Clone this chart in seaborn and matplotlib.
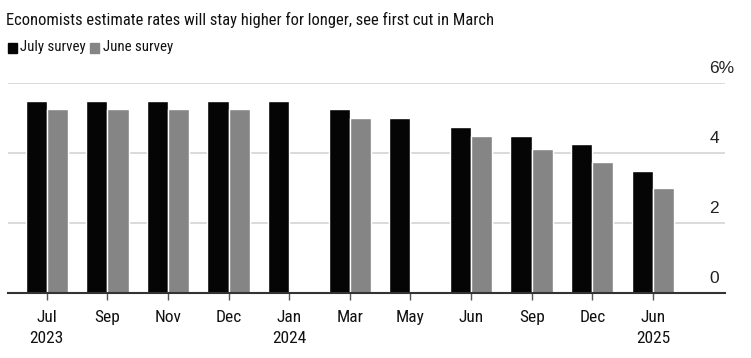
import numpy as np
import pandas as pd
import matplotlib
matplotlib.use("Agg")
import matplotlib.pyplot as plt
import seaborn as sns
from matplotlib.patches import Rectangle

categories = ["Jul\n2023", "Sep", "Nov", "Dec", "Jan\n2024", "Mar", "May", "Jun", "Sep ", "Dec ", "Jun\n2025"]
july_survey = [5.5, 5.5, 5.5, 5.5, 5.5, 5.25, 5.0, 4.75, 4.5, 4.25, 3.5]
june_survey = [5.25, 5.25, 5.25, 5.25, np.nan, 5.0, np.nan, 4.5, 4.125, 3.75, 3.0]
series_names = ["July survey", "June survey"]
y_ticks = [0, 2, 4, 6]
y_tick_labels = ["0", "2", "4", "6%"]
title = "Economists estimate rates will stay higher for longer, see first cut in March"

sns.set_theme(style="white")
plt.rcParams['font.family'] = ['Roboto Condensed', 'Liberation Sans', 'DejaVu Sans']

df = pd.DataFrame({
    "cat": categories * 2,
    "value": july_survey + june_survey,
    "series": [series_names[0]] * len(categories) + [series_names[1]] * len(categories),
})

fig = plt.figure(figsize=(7.51, 3.58), dpi=100)
ax = fig.add_axes([8 / 751, (358 - 293) / 358, (725 - 8) / 751, (293 - 83) / 358])
colors = ["#050505", "#858585"]
sns.barplot(data=df, x="cat", y="value", hue="series", order=categories,
            hue_order=series_names, palette=colors, width=0.7, dodge=True,
            ax=ax, legend=False, saturation=1, errorbar=None)

ax.set_xlim(-0.64, 11.19)
ax.set_ylim(0, 6)
for y in y_ticks[1:]:
    ax.axhline(y, color="#d4d4d4", lw=1.2, zorder=0)
ax.set_yticks([])
for y, lab in zip(y_ticks, y_tick_labels):
    ax.text(10.93, y + 0.2, lab, fontsize=12.5, color="#222222", ha="left", va="bottom",
            family=['Liberation Sans', 'DejaVu Sans'])

for s in ["top", "right", "left"]:
    ax.spines[s].set_visible(False)
ax.spines["bottom"].set_color("#333333")
ax.spines["bottom"].set_linewidth(1.5)
ax.set_xlabel("")
ax.set_ylabel("")
ax.tick_params(axis="x", bottom=True, length=5, width=1, color="#555555",
               labelsize=12.5, pad=7, labelcolor="#111111")
ax.set_xticks(range(len(categories)))
ax.set_xticklabels([c.strip() for c in categories], linespacing=1.5)

fig.text(6 / 751, 1 - 20 / 358, title, fontsize=11.9, color="#111111", va="center", ha="left")
# legend
fig.patches.append(Rectangle((8 / 751, 1 - 53 / 358), 9 / 751, 10 / 358,
                             transform=fig.transFigure, color=colors[0]))
fig.text(20 / 751, 1 - 47 / 358, series_names[0], fontsize=10.7, va="center", ha="left", color="#111111")
fig.patches.append(Rectangle((90 / 751, 1 - 53 / 358), 9 / 751, 10 / 358,
                             transform=fig.transFigure, color=colors[1]))
fig.text(103 / 751, 1 - 47 / 358, series_names[1], fontsize=10.7, va="center", ha="left", color="#111111")

fig.savefig("out.png", dpi=100, facecolor="white")
